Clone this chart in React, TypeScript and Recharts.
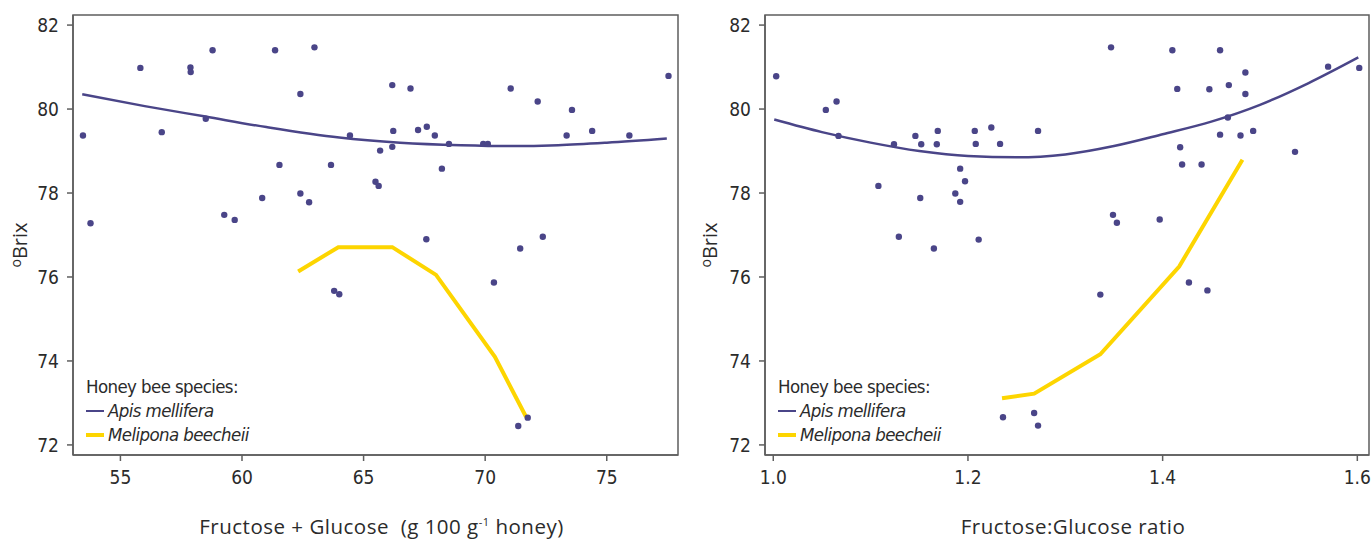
import React from 'react';
import { ComposedChart, Scatter, Line, XAxis, YAxis, ReferenceArea, Legend } from 'recharts';

// ---------- data ----------
const sugarApis: [number, number][] = [
  [53.46, 79.37], [53.77, 77.28], [55.82, 80.98], [56.7, 79.45], [57.88, 80.99], [57.89, 80.88],
  [58.51, 79.77], [58.79, 81.4], [59.27, 77.48], [59.7, 77.36], [60.83, 77.88], [61.36, 81.4],
  [61.54, 78.67], [62.4, 80.36], [62.4, 77.99], [62.76, 77.78], [62.98, 81.47], [63.66, 78.67],
  [64.44, 79.37], [66.18, 80.57], [66.93, 80.49], [66.22, 79.48], [65.68, 79.01], [66.18, 79.1],
  [65.49, 78.27], [65.62, 78.17], [67.24, 79.5], [67.6, 79.58], [67.93, 79.37], [68.22, 78.58],
  [68.51, 79.17], [69.92, 79.17], [70.11, 79.17], [71.05, 80.49], [72.16, 80.18], [73.57, 79.98],
  [73.35, 79.37], [74.4, 79.48], [75.93, 79.37], [77.54, 80.79], [67.58, 76.9], [71.44, 76.68],
  [72.37, 76.96], [63.79, 75.67], [64.0, 75.59], [70.36, 75.87], [71.36, 72.45], [71.75, 72.65],
];
const sugarApisFit: [number, number][] = [
  [53.43, 80.35], [56, 80.07], [58.5, 79.82], [61, 79.57], [64, 79.32], [66.5, 79.2],
  [69, 79.14], [71, 79.12], [73, 79.14], [75, 79.2], [77.47, 79.3],
];
const sugarMelipona: [number, number][] = [
  [62.31, 76.13], [63.96, 76.71], [66.18, 76.71], [67.98, 76.05], [70.4, 74.1], [71.68, 72.67],
];

const ratioApis: [number, number][] = [
  [1.003, 80.78], [1.054, 79.98], [1.065, 80.18], [1.067, 79.36], [1.108, 78.17], [1.124, 79.16],
  [1.129, 76.96], [1.146, 79.36], [1.152, 79.16], [1.151, 77.88], [1.168, 79.16], [1.169, 79.48],
  [1.165, 76.68], [1.187, 77.99], [1.192, 78.58], [1.192, 77.79], [1.197, 78.28], [1.207, 79.48],
  [1.208, 79.17], [1.211, 76.89], [1.224, 79.56], [1.233, 79.17], [1.272, 79.48], [1.347, 81.47],
  [1.41, 81.4], [1.459, 81.4], [1.485, 80.87], [1.415, 80.48], [1.448, 80.47], [1.468, 80.57],
  [1.485, 80.36], [1.467, 79.8], [1.459, 79.39], [1.48, 79.37], [1.493, 79.48], [1.418, 79.09],
  [1.42, 78.68], [1.44, 78.68], [1.536, 78.98], [1.57, 81.01], [1.602, 80.98], [1.349, 77.48],
  [1.353, 77.29], [1.397, 77.37], [1.336, 75.58], [1.427, 75.87], [1.446, 75.68], [1.268, 72.76],
  [1.272, 72.46], [1.236, 72.66],
];
const ratioApisFit: [number, number][] = [
  [1.001, 79.75], [1.05, 79.45], [1.1, 79.2], [1.15, 79.0], [1.2, 78.88], [1.25, 78.85],
  [1.3, 78.92], [1.35, 79.12], [1.4, 79.4], [1.45, 79.7], [1.5, 80.1], [1.55, 80.62], [1.601, 81.23],
];
const ratioMelipona: [number, number][] = [
  [1.235, 73.11], [1.268, 73.22], [1.336, 74.16], [1.417, 76.25], [1.482, 78.79],
];

const brixTicks = [72, 74, 76, 78, 80, 82];
const brixDomain: [number, number] = [71.76, 82.24];
const sugarTicks = [55, 60, 65, 70, 75];
const sugarDomain: [number, number] = [53.05, 77.93];
const ratioTicks = [1.0, 1.2, 1.4, 1.6];
const ratioDomain: [number, number] = [0.9915, 1.612];

const legendTitle = 'Honey bee species:';
const apisName = 'Apis mellifera';
const meliponaName = 'Melipona beecheii';

// ---------- style ----------
const BLUE = '#4a4588';
const YELLOW = '#fdd500';
const AXIS = '#5e5e5e';
const TEXT = '#2b2b2b';
const NARROW = '"Liberation Sans Narrow", "DejaVu Sans Condensed", Roboto, sans-serif';
const TITLE = '"Open Sans", Roboto, sans-serif';

const toObj = (a: [number, number][]) => a.map(([x, y]) => ({ x, y }));

const Dot = (p: any) => <circle cx={p.cx} cy={p.cy} r={3.2} fill={BLUE} />;

const legendContent = (props: any) => {
  const payload = ((props.payload || []) as any[]).filter(
    (e: any) => e.value === apisName || e.value === meliponaName
  );
  return (
    <div
      style={{
        fontFamily: NARROW,
        color: TEXT,
        fontSize: 18.5,
        letterSpacing: -0.6,
        lineHeight: '24px',
        whiteSpace: 'nowrap',
      }}
    >
      <div>{legendTitle}</div>
      {payload.map((e: any) => (
        <div key={e.value} style={{ display: 'flex', alignItems: 'center' }}>
          <span
            style={{
              display: 'inline-block',
              width: 18,
              height: e.value === apisName ? 2.5 : 4,
              background: e.color,
              marginRight: 4,
            }}
          />
          <i>{e.value}</i>
        </div>
      ))}
    </div>
  );
};

const yTitle = (props: any) => {
  const vb = props.viewBox || {};
  const cx = vb.x + 27;
  const cy = vb.y + vb.height / 2 + 10;
  return (
    <text
      x={cx}
      y={cy}
      transform={`rotate(-90 ${cx} ${cy})`}
      textAnchor="middle"
      fontFamily={TITLE}
      fontSize={20}
      fill={TEXT}
    >
      <tspan fontSize={14} dy={-6}>o</tspan>
      <tspan dy={6}>Brix</tspan>
    </text>
  );
};

function Panel(props: {
  left: number;
  width: number;
  yWidth: number;
  marginRight: number;
  pts: [number, number][];
  fit: [number, number][];
  mel: [number, number][];
  xDomain: [number, number];
  xTicks: number[];
  xFmt: (v: number) => string;
  xTitle: (vb: any) => React.ReactNode;
  legendLeft: number;
}) {
  const { pts, fit, mel, xDomain } = props;
  return (
    <div style={{ position: 'absolute', left: props.left, top: 0 }}>
      <ComposedChart
        width={props.width}
        height={540}
        margin={{ top: 15, right: props.marginRight, bottom: 0, left: 0 }}
      >
        <XAxis
          type="number"
          dataKey="x"
          domain={xDomain}
          ticks={props.xTicks}
          allowDataOverflow
          tickFormatter={props.xFmt}
          height={85}
          tickSize={6}
          tickMargin={10}
          axisLine={{ stroke: AXIS, strokeWidth: 1.5 }}
          tickLine={{ stroke: AXIS, strokeWidth: 1.5 }}
          tick={{ fill: TEXT, fontSize: 19, fontFamily: NARROW }}
          label={{ content: (p: any) => props.xTitle(p.viewBox) } as any}
        />
        <YAxis
          type="number"
          dataKey="y"
          domain={brixDomain}
          ticks={brixTicks}
          allowDataOverflow
          width={props.yWidth}
          tickSize={6}
          tickMargin={8}
          axisLine={{ stroke: AXIS, strokeWidth: 1.5 }}
          tickLine={{ stroke: AXIS, strokeWidth: 1.5 }}
          tick={{ fill: TEXT, fontSize: 19, fontFamily: NARROW }}
          label={{ content: yTitle } as any}
        />
        <Scatter
          data={toObj(pts)}
          dataKey="y"
          shape={Dot}
          legendType="none"
          isAnimationActive={false}
        />
        <Line
          data={toObj(fit)}
          dataKey="y"
          name={apisName}
          type="monotone"
          stroke={BLUE}
          strokeWidth={2.5}
          dot={false}
          activeDot={false}
          isAnimationActive={false}
        />
        <Line
          data={toObj(mel)}
          dataKey="y"
          name={meliponaName}
          type="linear"
          stroke={YELLOW}
          strokeWidth={4}
          dot={false}
          activeDot={false}
          isAnimationActive={false}
        />
        <ReferenceArea
          x1={xDomain[0]}
          x2={xDomain[1]}
          y1={brixDomain[0]}
          y2={brixDomain[1]}
          fill="none"
          stroke={AXIS}
          strokeWidth={1.5}
          ifOverflow="visible"
        />
        <Legend
          layout="vertical"
          align="center"
          verticalAlign="middle"
          content={legendContent}
          wrapperStyle={{ left: props.legendLeft, top: 375, bottom: 'auto', right: 'auto', width: 240, height: 75 }}
        />
      </ComposedChart>
    </div>
  );
}

const sugarTitle = (vb: any) => {
  const cx = vb.x + vb.width / 2 + 6;
  return (
    <text
      x={cx}
      y={vb.y + 79}
      textAnchor="middle"
      fontFamily={TITLE}
      fontSize={20.5}
      letterSpacing={0.5}
      fill={TEXT}
      style={{ whiteSpace: 'pre' }}
    >
      <tspan>{'Fructose + Glucose  (g 100 g'}</tspan>
      <tspan fontSize={11} dy={-8}>{'-1'}</tspan>
      <tspan dy={8}>{' honey)'}</tspan>
    </text>
  );
};

const ratioTitle = (vb: any) => {
  const cx = vb.x + vb.width / 2 + 6;
  return (
    <text
      x={cx}
      y={vb.y + 79}
      textAnchor="middle"
      fontFamily={TITLE}
      fontSize={20.5}
      letterSpacing={0.5}
      fill={TEXT}
    >
      Fructose:Glucose ratio
    </text>
  );
};

export default function App() {
  return (
    <div style={{ position: 'absolute', left: 0, top: 0, width: 1372, height: 540, background: '#fff' }}>
      <Panel
        left={0}
        width={700}
        yWidth={73}
        marginRight={22}
        pts={sugarApis}
        fit={sugarApisFit}
        mel={sugarMelipona}
        xDomain={sugarDomain}
        xTicks={sugarTicks}
        xFmt={(v) => String(v)}
        xTitle={sugarTitle}
        legendLeft={86}
      />
      <Panel
        left={690}
        width={682}
        yWidth={75}
        marginRight={3}
        pts={ratioApis}
        fit={ratioApisFit}
        mel={ratioMelipona}
        xDomain={ratioDomain}
        xTicks={ratioTicks}
        xFmt={(v) => v.toFixed(1)}
        xTitle={ratioTitle}
        legendLeft={88}
      />
    </div>
  );
}
